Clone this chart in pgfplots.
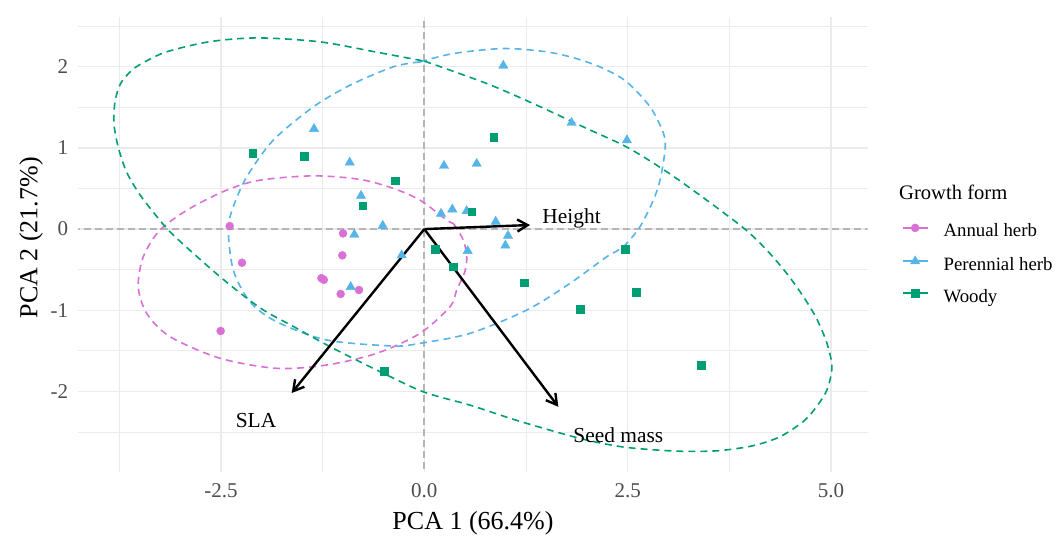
\documentclass[border=0pt]{standalone}
\usepackage{pgfplots}
\pgfplotsset{compat=1.18}
\usetikzlibrary{arrows.meta}
\usepackage{fontspec}
\setmainfont{Liberation Serif}
\definecolor{annual}{HTML}{DA70D6}
\definecolor{perennial}{HTML}{56B4E9}
\definecolor{woody}{HTML}{009E73}
\definecolor{gridc}{HTML}{EBEBEB}
\definecolor{tickc}{HTML}{4D4D4D}
\definecolor{zeroc}{HTML}{B5B5B5}
\begin{document}
\begin{tikzpicture}
\begin{axis}[
  at={(0pt,0pt)}, anchor=south west,
  scale only axis, width=789.4pt, height=454.4pt,
  xmin=-4.253, xmax=5.45, ymin=-2.99, ymax=2.61,
  xtick={-2.5,0,2.5,5}, ytick={-2,-1,0,1,2},
  minor xtick={-3.75,-1.25,1.25,3.75},
  minor ytick={-2.5,-1.5,-0.5,0.5,1.5,2.5},
  grid=both,
  major grid style={gridc, line width=1.3pt},
  minor grid style={gridc, line width=0.65pt},
  axis line style={draw=none},
  tick style={draw=none},
  /pgf/number format/assume math mode=true,
  xticklabel={\pgfmathprintnumber[fixed,fixed zerofill,precision=1]{\tick}},
  yticklabel={\pgfmathprintnumber[fixed,precision=0]{\tick}},
  xticklabel style={font=\fontsize{21}{21}\selectfont, text=tickc, anchor=north, inner sep=0pt, yshift=-11.6pt},
  yticklabel style={font=\fontsize{21}{21}\selectfont, text=tickc, anchor=east, inner sep=0pt, xshift=-10pt},
  xlabel={PCA 1 (66.4\%)}, ylabel={PCA 2 (21.7\%)},
  every axis x label/.style={at={(axis description cs:0.5,-0.1268)}, anchor=base, font=\fontsize{26}{26}\selectfont, inner sep=0pt},
  every axis y label/.style={at={(axis description cs:-0.0519,0.515)}, rotate=90, anchor=base, font=\fontsize{26}{26}\selectfont, inner sep=0pt},
  legend cell align=left,
  legend style={draw=none, fill=none, at={(axis description cs:1.0431,0.4575)}, anchor=west,
    inner sep=0pt, outer sep=0pt, row sep=17.5pt, font=\fontsize{18.8}{18.8}\selectfont,
    nodes={inner sep=0pt},
    /tikz/every odd column/.append style={column sep=15pt}},
  legend image code/.code={
    \draw[#1, line width=1.8pt, dash pattern=on 10pt off 5pt] (0pt,0.32em) -- (25pt,0.32em);
    \draw[#1, solid] plot coordinates {(12.5pt,0.32em)};
  },
]
% zero reference lines
\addplot[zeroc, line width=1.8pt, dash pattern=on 7pt off 4pt, forget plot] coordinates {(-10,0) (10,0)};
\addplot[zeroc, line width=1.8pt, dash pattern=on 7pt off 4pt, forget plot] coordinates {(0,-10) (0,10)};

% points
\addplot[only marks, mark=*, annual, mark size=4pt, forget plot] coordinates {
(-2.392,0.037) (-0.999,-0.053) (-1.008,-0.324) (-2.241,-0.415) (-1.265,-0.605) (-1.235,-0.625) (-0.803,-0.751) (-1.028,-0.80) (-2.503,-1.256)};
\addplot[only marks, mark=triangle*, perennial, mark size=5.4pt, forget plot] coordinates {
(-1.356,1.235) (-0.917,0.82) (0.242,0.78) (-0.778,0.41) (0.205,0.19) (0.344,0.243) (-0.511,0.042) (-0.86,-0.068) (-0.278,-0.323) (0.971,2.015) (1.81,1.31) (2.49,1.095) (0.644,0.805) (0.52,0.222) (0.877,0.092) (1.029,-0.083) (0.996,-0.203) (0.533,-0.27) (-0.905,-0.713)};
\addplot[only marks, mark=square*, woody, mark size=3.9pt, forget plot] coordinates {
(-2.11,0.94) (-1.479,0.90) (-0.36,0.595) (-0.757,0.287) (0.131,-0.25) (0.853,1.137) (0.583,0.213) (2.467,-0.25) (0.353,-0.464) (1.226,-0.661) (2.602,-0.776) (1.914,-0.985) (3.401,-1.675) (-0.492,-1.749)};

% ellipses
\addplot[annual, line width=1.6pt, dash pattern=on 7pt off 5pt, smooth, forget plot] coordinates {
(0.356,0.07) (0.479,-0.135) (0.521,-0.341) (0.50,-0.52) (0.398,-0.751) (0.316,-0.957) (-0.053,-1.285) (-0.585,-1.531) (-1.2,-1.675) (-1.815,-1.716) (-2.511,-1.592) (-3.126,-1.326) (-3.413,-1.038) (-3.516,-0.71) (-3.454,-0.341) (-3.249,-0.012) (-2.88,0.255) (-2.429,0.48) (-2.02,0.603) (-1.364,0.656) (-0.79,0.612) (-0.381,0.501) (-0.053,0.357) (0.275,0.111) (0.356,0.07)};
\addplot[perennial, line width=1.6pt, dash pattern=on 7pt off 5pt, smooth, forget plot] coordinates {
(-0.053,2.06) (0.356,2.163) (0.971,2.225) (1.505,2.184) (1.873,2.10) (2.20,1.98) (2.488,1.814) (2.775,1.506) (2.94,1.18) (2.959,0.973) (2.897,0.603) (2.815,0.357) (2.65,0.028) (2.446,-0.218) (2.242,-0.341) (1.79,-0.669) (1.259,-0.998) (0.562,-1.285) (-0.053,-1.408) (-0.381,-1.441) (-1.2,-1.367) (-1.815,-1.142) (-2.143,-0.895) (-2.348,-0.505) (-2.41,0.0) (-2.348,0.275) (-2.183,0.644) (-1.856,1.096) (-1.364,1.506) (-0.913,1.773) (-0.381,2.0) (-0.053,2.06)};
\addplot[woody, line width=1.6pt, dash pattern=on 7pt off 5pt, smooth, forget plot] coordinates {
(0,2.07) (0.767,1.794) (1.382,1.527) (1.996,1.24) (2.49,1.01) (2.98,0.706) (3.47,0.357) (3.94,0) (4.21,-0.26) (4.455,-0.546) (4.66,-0.834) (4.82,-1.10) (4.95,-1.41) (5.01,-1.70) (4.95,-1.98) (4.82,-2.19) (4.66,-2.37) (4.37,-2.56) (4.04,-2.67) (3.63,-2.73) (3.225,-2.74) (2.815,-2.72) (2.406,-2.68) (1.914,-2.58) (1.176,-2.37) (0.562,-2.17) (0,-2.01) (-0.504,-1.777) (-1.119,-1.47) (-1.61,-1.20) (-2.02,-0.97) (-2.511,-0.587) (-3.085,-0.074) (-3.30,0.17) (-3.50,0.43) (-3.658,0.70) (-3.76,1.00) (-3.815,1.30) (-3.80,1.58) (-3.73,1.80) (-3.58,1.97) (-3.40,2.08) (-3.15,2.19) (-2.634,2.31) (-2.04,2.356) (-1.282,2.307) (-0.585,2.18) (0,2.07)};

% loadings arrows
\addplot[black, line width=2.4pt, -{Straight Barb[angle=60:12pt]}, forget plot] coordinates {(0,0) (1.30,0.05)};
\addplot[black, line width=2.4pt, -{Straight Barb[angle=60:12pt]}, forget plot] coordinates {(0,0) (-1.63,-2.02)};
\addplot[black, line width=2.4pt, -{Straight Barb[angle=60:12pt]}, forget plot] coordinates {(0,0) (1.647,-2.19)};
\node[font=\fontsize{21.4}{21.4}\selectfont, inner sep=0pt] at (axis cs:1.81,0.13) {Height};
\node[font=\fontsize{21.4}{21.4}\selectfont, inner sep=0pt] at (axis cs:-2.069,-2.36) {SLA};
\node[font=\fontsize{21.4}{21.4}\selectfont, inner sep=0pt] at (axis cs:2.385,-2.537) {Seed mass};

% legend
\addlegendimage{annual, mark=*, mark size=4pt}
\addlegendentry{Annual herb}
\addlegendimage{perennial, mark=triangle*, mark size=5.4pt}
\addlegendentry{Perennial herb}
\addlegendimage{woody, mark=square*, mark size=3.9pt}
\addlegendentry{Woody}
\end{axis}
\node[anchor=west, inner sep=0pt, font=\fontsize{20.6}{20.6}\selectfont] at (820.7pt,279.7pt) {Growth form};
\pgfresetboundingbox
\path (-78.3pt,-64.3pt) rectangle (976.7pt,471.7pt);
\end{tikzpicture}
\end{document}
